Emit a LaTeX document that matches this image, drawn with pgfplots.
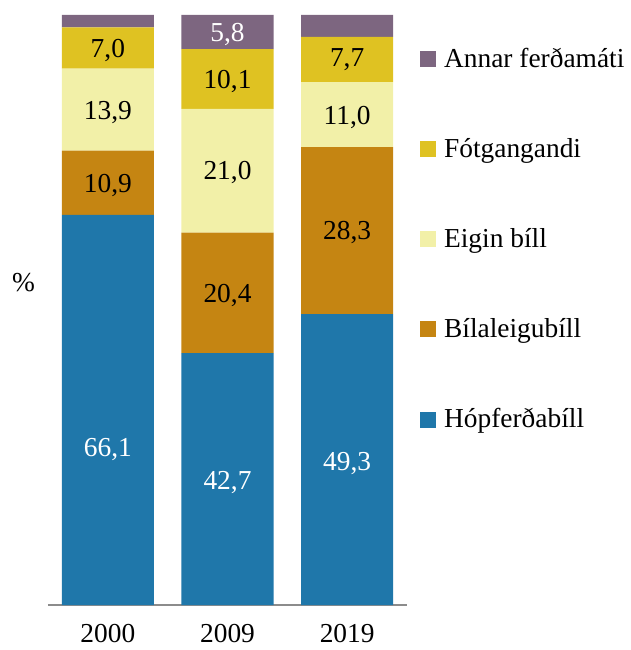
\documentclass[border=0pt]{standalone}
\usepackage{fontspec}
\setmainfont{Liberation Serif}
\usepackage{pgfplots}
\pgfplotsset{compat=1.18}
\definecolor{cHop}{RGB}{31,119,170}
\definecolor{cBil}{RGB}{197,133,18}
\definecolor{cEig}{RGB}{242,240,168}
\definecolor{cFot}{RGB}{223,194,34}
\definecolor{cAnn}{RGB}{125,102,128}
\newcommand{\fs}{\fontsize{27.5}{32}\selectfont}
\begin{document}
\begin{tikzpicture}[x=1bp,y=1bp,font=\fs]
\useasboundingbox (-48,-45) rectangle (583,605);
\begin{axis}[
  at={(0,0)}, anchor=south west,
  width=359bp, height=590bp, scale only axis,
  ybar stacked, bar width=0.77,
  xmin=-0.5, xmax=2.5, ymin=0, ymax=100,
  axis x line=bottom, axis y line=none,
  x axis line style={draw=black!45, line width=1.8bp, -},
  xtick={0,1,2}, xticklabels={2000,2009,2019},
  major tick length=0,
  xticklabel style={font=\fs, inner sep=0pt, yshift=-19bp},
  /pgf/number format/assume math mode=true,
  clip=false,
  reverse legend,
  legend cell align=left,
  legend style={at={(1.036,0.948)}, anchor=north west, draw=none, fill=none,
    inner sep=0pt, row sep=65.5bp, font=\fs},
  legend image code/.code={\fill[#1,draw=none] (0bp,-9bp) rectangle (16bp,7bp); \path (22bp,0bp);},
]
\addplot[fill=cHop, draw=none] coordinates {(0,66.1) (1,42.7) (2,49.3)};
\addlegendentry{Hópferðabíll}
\addplot[fill=cBil, draw=none] coordinates {(0,10.9) (1,20.4) (2,28.3)};
\addlegendentry{Bílaleigubíll}
\addplot[fill=cEig, draw=none] coordinates {(0,13.9) (1,21.0) (2,11.0)};
\addlegendentry{Eigin bíll}
\addplot[fill=cFot, draw=none] coordinates {(0,7.0) (1,10.1) (2,7.7)};
\addlegendentry{Fótgangandi}
\addplot[fill=cAnn, draw=none] coordinates {(0,2.1) (1,5.8) (2,3.7)};
\addlegendentry{Annar ferðamáti}
\coordinate (a1) at (axis cs:0,26.8);
\coordinate (a2) at (axis cs:0,71.55);
\coordinate (a3) at (axis cs:0,83.95);
\coordinate (a4) at (axis cs:0,94.4);
\coordinate (b1) at (axis cs:1,21.2);
\coordinate (b2) at (axis cs:1,52.9);
\coordinate (b3) at (axis cs:1,73.7);
\coordinate (b4) at (axis cs:1,89.15);
\coordinate (b5) at (axis cs:1,97.1);
\coordinate (c1) at (axis cs:2,24.4);
\coordinate (c2) at (axis cs:2,63.5);
\coordinate (c3) at (axis cs:2,83.1);
\coordinate (c4) at (axis cs:2,92.9);
\coordinate (pc) at (axis description cs:-0.068,0.546);
\end{axis}
\begin{scope}[every node/.style={yshift=-2.5bp}]
\node[text=white] at (a1) {66,1};
\node at (a2) {10,9};
\node at (a3) {13,9};
\node at (a4) {7,0};
\node[text=white] at (b1) {42,7};
\node at (b2) {20,4};
\node at (b3) {21,0};
\node at (b4) {10,1};
\node[text=white] at (b5) {5,8};
\node[text=white] at (c1) {49,3};
\node at (c2) {28,3};
\node at (c3) {11,0};
\node at (c4) {7,7};
\end{scope}
\node at (pc) {\%};
\end{tikzpicture}
\end{document}
